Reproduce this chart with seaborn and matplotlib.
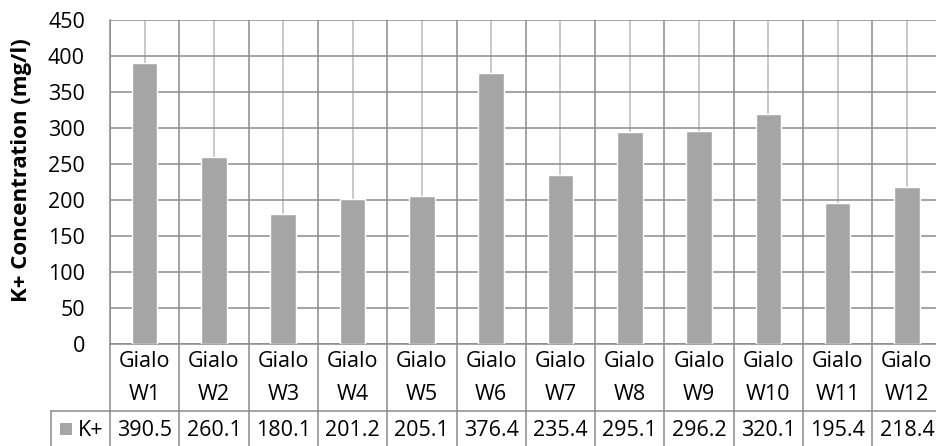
import matplotlib
matplotlib.use("Agg")
import matplotlib.pyplot as plt
import matplotlib.transforms as mtransforms
from matplotlib.lines import Line2D
from matplotlib.patches import Rectangle
import pandas as pd
import seaborn as sns

# Potassium concentration per well
wells = ["Gialo\nW1", "Gialo\nW2", "Gialo\nW3", "Gialo\nW4", "Gialo\nW5", "Gialo\nW6",
         "Gialo\nW7", "Gialo\nW8", "Gialo\nW9", "Gialo\nW10", "Gialo\nW11", "Gialo\nW12"]
k_values = [390.5, 260.1, 180.1, 201.2, 205.1, 376.4, 235.4, 295.1, 296.2, 320.1, 195.4, 218.4]
series_name = "K+"
y_ticks = [0, 50, 100, 150, 200, 250, 300, 350, 400, 450]

BAR = "#A5A5A5"
GRID = "#8C8C8C"
GRID_LIGHT = "#C4C4C4"
TXT = "#000000"
FS = 15.5

sns.set_theme(style="white")
plt.rcParams["font.family"] = ["Open Sans", "DejaVu Sans"]

W, H = 936, 446
fig = plt.figure(figsize=(W / 100, H / 100), dpi=100)
left_px, bottom_px, top_px = 110, 344, 20
cat_w = 69.3
ax = fig.add_axes([left_px / W, (H - bottom_px) / H, cat_w * 12 / W, (bottom_px - top_px) / H])

df = pd.DataFrame({"well": wells, "value": k_values})
sns.barplot(data=df, x="well", y="value", color=BAR, saturation=1, width=0.37,
            ax=ax, zorder=3)

ax.set_xlim(-0.5, len(wells) - 0.5)
ax.set_ylim(0, 450)
ax.set_yticks(y_ticks)
ax.set_yticklabels([str(v) for v in y_ticks], fontsize=FS, color=TXT)
ax.tick_params(axis="y", length=0, pad=18)

# vertical grid: light lines at category centres, darker at boundaries
ax.set_xticks(range(len(wells)))
ax.set_xticks([i - 0.5 for i in range(len(wells) + 1)], minor=True)
ax.tick_params(axis="x", which="both", length=0, labelbottom=False)
ax.grid(True, which="major", axis="y", color=GRID, linewidth=1.1, zorder=0)
ax.grid(True, which="major", axis="x", color=GRID_LIGHT, linewidth=1.3, zorder=0)
ax.grid(True, which="minor", axis="x", color=GRID, linewidth=1.1, zorder=0)
ax.set_axisbelow(True)
for side in ["top", "right"]:
    ax.spines[side].set_visible(False)
for side in ["left", "bottom"]:
    ax.spines[side].set_color(GRID)
    ax.spines[side].set_linewidth(1.1)
ax.set_xlabel("")
ax.set_ylabel("")

fig.text(22 / W, 1 - 170 / H, "K+ Concentration (mg/l)", rotation=90, ha="center",
         va="center", fontsize=16, fontweight="bold", color=TXT)

# data table below the axis
tr = mtransforms.blended_transform_factory(ax.transData, fig.transFigure)
row_y = 1 - 411 / H
for i in range(len(wells) + 1):
    fig.add_artist(Line2D([i - 0.5, i - 0.5], [0, 1 - bottom_px / H], transform=tr,
                          color=GRID, linewidth=1.1))
fig.add_artist(Line2D([51 / W, 1], [row_y, row_y], transform=fig.transFigure,
                      color=GRID, linewidth=1.1))
fig.add_artist(Line2D([51 / W, 51 / W], [0, row_y], transform=fig.transFigure,
                      color=GRID, linewidth=1.1))

for i, (name, val) in enumerate(zip(wells, k_values)):
    fig.text(i, 1 - 378 / H, name, transform=tr, ha="center", va="center",
             fontsize=FS, color=TXT, linespacing=1.75)
    fig.text(i, 1 - 431 / H, f"{val:.1f}", transform=tr, ha="center", va="center",
             fontsize=FS, color=TXT)

fig.add_artist(Rectangle((60 / W, 1 - 435 / H), 12 / W, 12 / H, transform=fig.transFigure,
                         facecolor=BAR, edgecolor="none"))
fig.text(78 / W, 1 - 431 / H, series_name, ha="left", va="center", fontsize=FS, color=TXT)

fig.savefig("out.png", dpi=100)
